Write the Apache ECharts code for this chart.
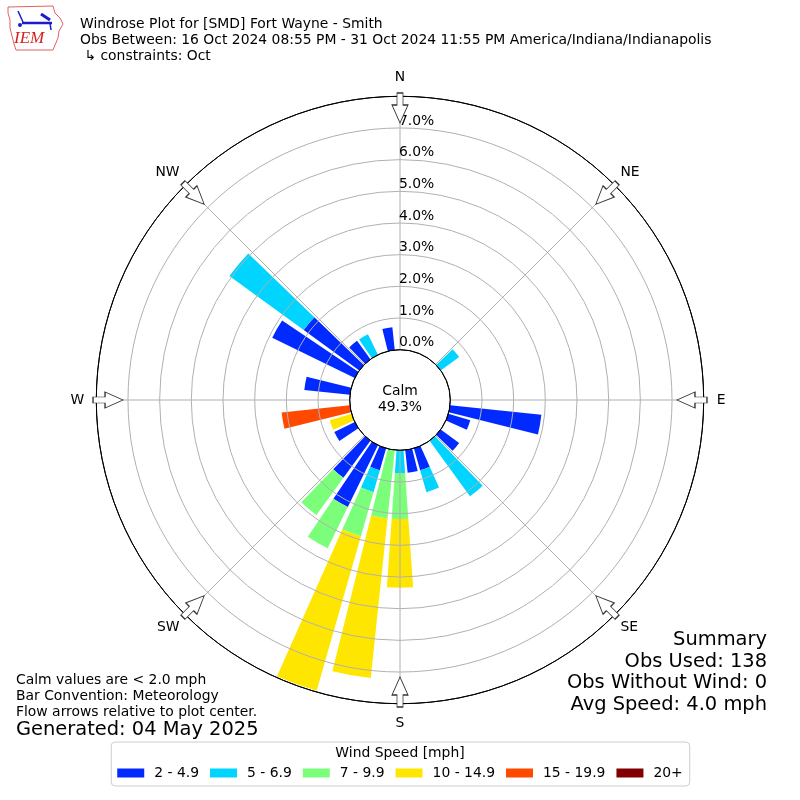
<!DOCTYPE html>
<html><head><meta charset="utf-8">
<script src="https://cdn.jsdelivr.net/npm/echarts@6/dist/echarts.min.js"></script>
<style>html,body{margin:0;padding:0;background:#fff}#c{width:800px;height:800px}</style>
</head><body><div id="c"></div>
<script>
// ---- data ----
const directions = [0,10,20,30,40,50,60,70,80,90,100,110,120,130,140,150,160,170,180,190,200,210,220,230,240,250,260,270,280,290,300,310,320,330,340,350];
const speedBins = ['2 - 4.9','5 - 6.9','7 - 9.9','10 - 14.9','15 - 19.9','20+'];
const binColors = ['#002aff','#00d4ff','#7bff7b','#ffe600','#ff4900','#800000'];
// percent of observations by direction (one value per direction above)
const pct_2_5   = [0,0,0,0,0,0,0,0,0,0, 2.90,0.72,0,0.72,0,0,0.72,0.72,0,0, 0.72,2.17,1.45,0,0.72,0,0,0,1.45,0, 2.90,2.17,0.72,0,0,0.72];
const pct_5_7   = [0,0,0,0,0,0.72,0,0,0,0, 0,0,0,0,2.17,0,0.72,0,0.72,0, 0.72,0,0,0,0,0,0,0,0,0, 0,2.90,0,0.72,0,0];
const pct_7_10  = [0,0,0,0,0,0,0,0,0,0, 0,0,0,0,0,0,0,0,1.45,2.17, 1.45,1.45,1.45,0,0,0,0,0,0,0, 0,0,0,0,0,0];
const pct_10_15 = [0,0,0,0,0,0,0,0,0,0, 0,0,0,0,0,0,0,0,2.17,5.07, 5.07,0,0,0,0,0.72,0,0,0,0, 0,0,0,0,0,0];
const pct_15_20 = [0,0,0,0,0,0,0,0,0,0, 0,0,0,0,0,0,0,0,0,0, 0,0,0,0,0,0,2.17,0,0,0, 0,0,0,0,0,0];
const pct_20p   = [0,0,0,0,0,0,0,0,0,0, 0,0,0,0,0,0,0,0,0,0, 0,0,0,0,0,0,0,0,0,0, 0,0,0,0,0,0];
const binValues = [pct_2_5, pct_5_7, pct_7_10, pct_10_15, pct_15_20, pct_20p];
const radialTicks = ['0.0%','1.0%','2.0%','3.0%','4.0%','5.0%','6.0%','7.0%'];
const compass = ['N','NE','E','SE','S','SW','W','NW'];
const compassAngles = [0,45,90,135,180,225,270,315];
const calmPct = '49.3%';
const titleLines = ['Windrose Plot for [SMD] Fort Wayne - Smith',
  'Obs Between: 16 Oct 2024 08:55 PM - 31 Oct 2024 11:55 PM America/Indiana/Indianapolis',
  ' \u21b3 constraints: Oct'];
const footLines = ['Calm values are < 2.0 mph','Bar Convention: Meteorology','Flow arrows relative to plot center.'];
const generated = 'Generated: 04 May 2025';
const summaryLines = ['Summary','Obs Used: 138','Obs Without Wind: 0','Avg Speed: 4.0 mph'];

// ---- chart ----
const FONT = 'DejaVu Sans';
const chart = echarts.init(document.getElementById('c'), null, {renderer:'canvas'});
const R0 = 50.3, R1 = 303.7;
const arrowR = 7.63;
const gray = '#b0b0b0';

function txt(x, y, text, size, align, extra) {
  return Object.assign({type:'text', x:x, y:y, silent:true, z:20,
    style: Object.assign({text:text, fill:'#000', fontSize:size, fontFamily:FONT, align:align||'left', verticalAlign:'middle'}, extra||{})});
}

const graphics = [];
titleLines.forEach((t,i)=>graphics.push(txt(80, 24 + i*16.3, t, 13.9)));
footLines.forEach((t,i)=>graphics.push(txt(16, 680.5 + i*16, t, 13.9)));
graphics.push(txt(16, 729.5, generated, 19.44));
summaryLines.forEach((t,i)=>graphics.push(txt(767, 640 + i*21.7, t, 19.44, 'right')));
graphics.push(txt(400, 391, 'Calm', 13.9, 'center'));
graphics.push(txt(400, 407.5, calmPct, 13.9, 'center'));
graphics.push(txt(400, 753.5, 'Wind Speed [mph]', 13.9, 'center'));
// logo
graphics.push({type:'polyline', silent:true, z:20, shape:{points:[[8,7],[53,6],[55,13],[60,18],[63,24],[59,31],[58,38],[55,45],[53,50],[16,50],[14,44],[12,36],[10,28],[10,20],[8,13],[8,7]]}, style:{stroke:'#e06060', lineWidth:1, fill:null}});
graphics.push({type:'line', silent:true, z:20, shape:{x1:22,y1:23,x2:52,y2:23}, style:{stroke:'#1a1ad0', lineWidth:2.5}});
graphics.push({type:'line', silent:true, z:20, shape:{x1:18,y1:11,x2:23,y2:22}, style:{stroke:'#1a1ad0', lineWidth:1.5}});
graphics.push({type:'line', silent:true, z:20, shape:{x1:41,y1:14,x2:50,y2:20}, style:{stroke:'#1a1ad0', lineWidth:3}});
graphics.push({type:'line', silent:true, z:20, shape:{x1:50,y1:23,x2:51,y2:30}, style:{stroke:'#1a1ad0', lineWidth:1.5}});
graphics.push({type:'circle', silent:true, z:20, shape:{cx:20,cy:25,r:2}, style:{fill:'#1a1ad0'}});
graphics.push(txt(14, 39, 'IEM', 17, 'left', {fill:'#d42020', fontFamily:'Liberation Serif', fontStyle:'italic'}));

const splitColors = ['#000000'].concat(radialTicks.slice(1).map(()=>gray)).concat(['#000000']);
const compassKey = {N:'n', S:'s', E:'e', W:'w'};

const series = speedBins.map((name,k)=>({
  type:'bar', name:name, coordinateSystem:'polar', polarIndex:0, stack:'wind',
  barWidth:'80%', data: binValues[k], itemStyle:{color: binColors[k]}, z:2, silent:true
}));
series.push({
  type:'scatter', coordinateSystem:'polar', polarIndex:1, silent:true, z:8,
  symbol:'path://M5,0 L11,0 L11,12 L16,12 L8,30 L0,12 L5,12 Z',
  symbolSize:[16,30], symbolKeepAspect:false,
  itemStyle:{color:'#ffffff', borderColor:'#333333', borderWidth:1, opacity:1},
  data: compassAngles.map(a=>({value:[arrowR, a], symbolRotate:-a}))
});

const option = {
  animation:false,
  textStyle:{fontFamily:FONT},
  polar:[{center:[400,400], radius:[R0,R1]},{center:[400,400], radius:[R0,R1]}],
  angleAxis:[
    {polarIndex:0, type:'category', data:directions.map(String), startAngle:95, clockwise:true,
     axisLine:{show:false}, axisTick:{show:false}, axisLabel:{show:false}, splitLine:{show:false}},
    {polarIndex:1, type:'value', min:0, max:360, interval:45, startAngle:90, clockwise:true, z:5,
     axisLine:{show:true, lineStyle:{color:'#000', width:1}}, axisTick:{show:false},
     axisLabel:{show:true, margin:8, fontSize:13.9, color:'#000', fontFamily:FONT,
       formatter:v=>{const c = compass[Math.round(v/45)%8]; return compassKey[c] ? '{'+compassKey[c]+'|'+c+'}' : c;},
       rich:{n:{fontSize:13.9, fontFamily:FONT, color:'#000', padding:[0,0,4,0]},
             s:{fontSize:13.9, fontFamily:FONT, color:'#000', padding:[5,0,0,0]},
             e:{fontSize:13.9, fontFamily:FONT, color:'#000', padding:[0,0,0,5]},
             w:{fontSize:13.9, fontFamily:FONT, color:'#000', padding:[0,4,0,0]}}},
     splitLine:{show:true, lineStyle:{color:gray, width:1}}}
  ],
  radiusAxis:[
    {polarIndex:0, type:'value', min:0, max:8, axisLine:{show:false}, axisTick:{show:false}, axisLabel:{show:false}, splitLine:{show:false}},
    {polarIndex:1, type:'value', min:0, max:8, interval:1, z:5, axisLine:{show:false}, axisTick:{show:false},
     axisLabel:{inside:true, margin:1, align:'left', verticalAlign:'bottom', fontSize:13.9, color:'#000', fontFamily:FONT,
       formatter:v=>(v<radialTicks.length ? radialTicks[v] : '')},
     splitLine:{show:true, lineStyle:{color:splitColors, width:1}}}
  ],
  legend:{data:speedBins, left:'center', top:742, orient:'horizontal', icon:'rect',
    itemWidth:27, itemHeight:9, itemGap:11, padding:[24,7,6,6],
    borderColor:'#cccccc', borderWidth:1, borderRadius:4, selectedMode:false,
    textStyle:{fontSize:13.9, color:'#000', fontFamily:FONT, padding:[0,0,0,5]}},
  graphic: graphics,
  series: series
};
chart.setOption(option);
</script>
</body></html>
